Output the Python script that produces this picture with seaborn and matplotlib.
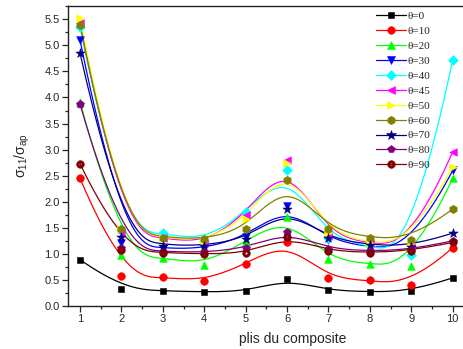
import numpy as np
import pandas as pd
import matplotlib
matplotlib.use("Agg")
import matplotlib.pyplot as plt
import seaborn as sns
from matplotlib.lines import Line2D
from matplotlib.path import Path
from matplotlib.ticker import MultipleLocator, FormatStrFormatter

# ---------------- data ----------------
plies = [1, 2, 3, 4, 5, 6, 7, 8, 9, 10]
labels = ["θ=0", "θ=10", "θ=20", "θ=30", "θ=40", "θ=45", "θ=50", "θ=60", "θ=70", "θ=80", "θ=90"]
t0  = [0.89, 0.33, 0.29, 0.27, 0.28, 0.51, 0.30, 0.27, 0.28, 0.54]
t10 = [2.45, 0.57, 0.55, 0.48, 0.81, 1.23, 0.53, 0.49, 0.41, 1.12]
t20 = [3.92, 0.98, 0.93, 0.79, 1.25, 1.70, 0.90, 0.80, 0.77, 2.45]
t30 = [5.10, 1.20, 1.10, 1.10, 1.33, 1.92, 1.27, 1.12, 1.10, 2.60]
t40 = [5.35, 1.45, 1.40, 1.25, 1.80, 2.61, 1.30, 1.15, 0.98, 4.72]
t45 = [5.42, 1.42, 1.30, 1.20, 1.75, 2.80, 1.35, 1.20, 1.15, 2.96]
t50 = [5.52, 1.47, 1.30, 1.25, 1.66, 2.74, 1.40, 1.20, 1.20, 2.67]
t60 = [5.40, 1.48, 1.31, 1.28, 1.48, 2.41, 1.47, 1.31, 1.27, 1.86]
t70 = [4.85, 1.33, 1.16, 1.16, 1.29, 1.86, 1.30, 1.17, 1.14, 1.40]
t80 = [3.87, 1.12, 1.04, 1.03, 1.11, 1.42, 1.10, 1.05, 1.08, 1.25]
t90 = [2.73, 1.08, 1.02, 1.00, 1.01, 1.33, 1.06, 1.02, 1.06, 1.22]
series = [t0, t10, t20, t30, t40, t45, t50, t60, t70, t80, t90]

colors = ["#000000", "#FF0000", "#00FF00", "#0000FF", "#00FFFF", "#FF00FF",
          "#FFFF00", "#808000", "#000080", "#800080", "#800000"]

# circle-with-dot marker
ang = np.linspace(0, 2 * np.pi, 41)
outer = np.column_stack([np.cos(ang), np.sin(ang)])
inner = np.column_stack([0.35 * np.cos(ang[::-1]), 0.35 * np.sin(ang[::-1])])
verts = np.vstack([outer, inner])
codes = ([Path.MOVETO] + [Path.LINETO] * 39 + [Path.CLOSEPOLY]) * 2
dot_circle = Path(verts, codes)

markers = ["s", "o", "^", "v", "D", "<", ">", "h", "*", "p", dot_circle]
msizes = [5, 5.5, 5.5, 5.5, 5, 5.5, 5.5, 6, 7, 6, 5.5]


def bspline(px, py, n=400, k=3):
    """Clamped uniform cubic B-spline with the data points as control points."""
    P = np.column_stack([px, py]).astype(float)
    m = len(P)
    knots = np.concatenate([np.zeros(k), np.arange(m - k + 1), np.full(k, m - k)]).astype(float)
    t = np.linspace(0, m - k, n)
    t[-1] -= 1e-9
    N = np.zeros((n, len(knots) - 1))
    for i in range(len(knots) - 1):
        N[:, i] = (t >= knots[i]) & (t < knots[i + 1])
    for d in range(1, k + 1):
        Nn = np.zeros((n, len(knots) - 1 - d))
        for i in range(len(knots) - 1 - d):
            a = knots[i + d] - knots[i]
            b = knots[i + d + 1] - knots[i + 1]
            term = 0
            if a > 0:
                term = term + (t - knots[i]) / a * N[:, i]
            if b > 0:
                term = term + (knots[i + d + 1] - t) / b * N[:, i + 1]
            Nn[:, i] = term
        N = Nn
    C = N @ P
    return C[:, 0], C[:, 1]


# ---------------- figure ----------------
sns.set_style("ticks")
plt.rcParams["font.family"] = ["Liberation Sans", "DejaVu Sans"]
plt.rcParams["mathtext.default"] = "regular"

fig = plt.figure(figsize=(4.63, 3.49), dpi=100)
ax_w = 1 - 68.3 / 463 + 0.01
ax = fig.add_axes([68.3 / 463, 1 - 306 / 349, ax_w, (306 - 6) / 349])

handles = []
for lab, vals, c, m, ms in zip(labels, series, colors, markers, msizes):
    cx, cy = bspline(plies, vals)
    curve = pd.DataFrame({"x": cx, "y": cy})
    sns.lineplot(data=curve, x="x", y="y", sort=False, estimator=None,
                 color=c, lw=0.9, ax=ax)
    pts = pd.DataFrame({"x": plies, "y": vals})
    sns.scatterplot(data=pts, x="x", y="y", marker=m, color=c, edgecolor=c,
                    linewidth=0.4, s=(ms * 1.0) ** 2, ax=ax, zorder=3)
    handles.append(Line2D([], [], color=c, lw=0.9, marker=m, markersize=ms,
                          markeredgecolor=c, markeredgewidth=0.4))

ax.set_xlim(0.717, 10.36)
ax.set_ylim(0, 5.755)
ax.xaxis.set_major_locator(MultipleLocator(1))
ax.xaxis.set_minor_locator(MultipleLocator(0.5))
ax.yaxis.set_major_locator(MultipleLocator(0.5))
ax.yaxis.set_minor_locator(MultipleLocator(0.25))
ax.yaxis.set_major_formatter(FormatStrFormatter("%.1f"))
ax.tick_params(which="major", direction="out", length=4, width=0.9, labelsize=8, pad=2)
ax.tick_params(which="minor", direction="out", length=2.5, width=0.9)
for s in ax.spines.values():
    s.set_linewidth(1.0)
    s.set_color("#222222")

ax.set_xlabel("plis du composite", fontsize=10)
ax.xaxis.set_label_coords((293 - 68.3) / (463 * ax_w), -0.085)
ax.set_ylabel("$σ_{11}/σ_{ap}$", fontsize=10, labelpad=9)

leg = fig.legend(handles, labels, loc="upper left",
                 bbox_to_anchor=(370 / 463, 1 - 6 / 349),
                 frameon=False, borderpad=0, handlelength=2.7, handletextpad=0.15,
                 labelspacing=0.46, prop={"family": "Liberation Serif", "size": 8})

fig.savefig("out.png", dpi=100)
